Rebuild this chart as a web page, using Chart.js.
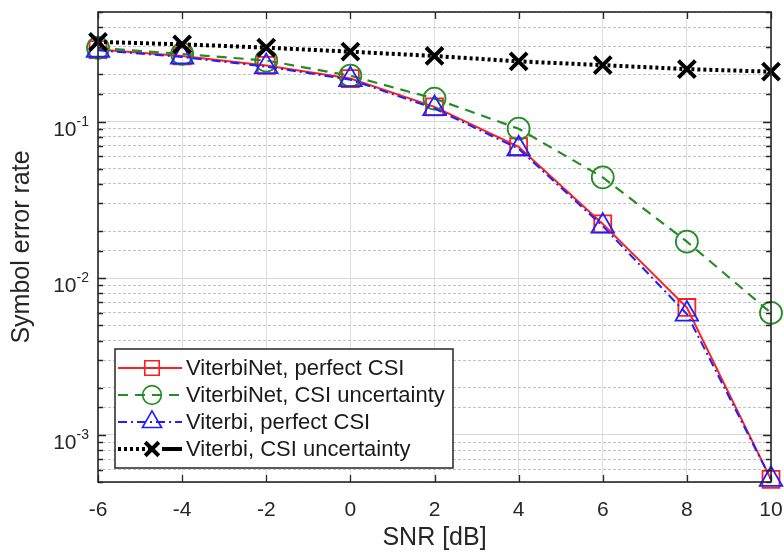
<!DOCTYPE html>
<html>
<head>
<meta charset="utf-8">
<script src="https://cdn.jsdelivr.net/npm/chart.js@4/dist/chart.umd.min.js"></script>
<style>
  html, body { margin: 0; padding: 0; background: #fff; }
</style>
</head>
<body>
<canvas id="serChart" width="784" height="553"></canvas>
<script>
// SNR points (dB) and the decades that get a label on the y axis
const snrDb = [-6, -4, -2, 0, 2, 4, 6, 8, 10];
const yDecades = [1e-3, 1e-2, 1e-1];
const yDecadeExp = ['-3', '-2', '-1'];

// symbol error rate per curve
const viterbiNetPerfect = [0.288, 0.262, 0.228, 0.188, 0.124, 0.069, 0.0222, 0.0065, 0.00052];
const viterbiNetUncertain = [0.295, 0.27, 0.245, 0.196, 0.140, 0.090, 0.044, 0.0171, 0.0060];
const viterbiPerfect = [0.285, 0.258, 0.224, 0.185, 0.121, 0.067, 0.0215, 0.0059, 0.00052];
const viterbiUncertain = [0.322, 0.311, 0.296, 0.279, 0.262, 0.242, 0.229, 0.216, 0.208];

const seriesNames = [
  'ViterbiNet, perfect CSI',
  'ViterbiNet, CSI uncertainty',
  'Viterbi, perfect CSI',
  'Viterbi, CSI uncertainty'
];

const FONT = '"Liberation Sans", Arial, Helvetica, sans-serif';
const TXT = '#262626';
const RED = '#ff1f1f', GREEN = '#238c23', BLUE = '#1f1fff', BLACK = '#000000';

const toPoints = (vals) => snrDb.map((x, i) => ({ x, y: vals[i] }));
const isDecade = (v) => Math.abs(Math.log10(v) - Math.round(Math.log10(v))) < 1e-6;

const styles = [
  { color: RED, width: 2, dash: [], marker: 'rect', r: 12 },
  { color: GREEN, width: 2.2, dash: [10, 7], marker: 'circle', r: 11 },
  { color: BLUE, width: 2, dash: [9, 4, 2, 4], marker: 'triangle', r: 13 },
  { color: BLACK, width: 4, dash: [3, 3], marker: 'crossRot', r: 12 }
];

// small marker painter for the legend, same shapes as the chart points
const drawMarker = (ctx, kind, x, y, r, color, lw) => {
  ctx.save();
  ctx.setLineDash([]);
  ctx.strokeStyle = color;
  ctx.lineWidth = lw;
  ctx.beginPath();
  if (kind === 'rect') {
    const s = r * Math.SQRT1_2;
    ctx.rect(x - s, y - s, 2 * s, 2 * s);
  } else if (kind === 'circle') {
    ctx.arc(x, y, r, 0, Math.PI * 2);
  } else if (kind === 'triangle') {
    ctx.moveTo(x, y - r);
    ctx.lineTo(x + r * 0.866, y + r * 0.5);
    ctx.lineTo(x - r * 0.866, y + r * 0.5);
    ctx.closePath();
  } else {
    const d = r * Math.SQRT1_2;
    ctx.moveTo(x - d, y - d); ctx.lineTo(x + d, y + d);
    ctx.moveTo(x + d, y - d); ctx.lineTo(x - d, y + d);
  }
  ctx.stroke();
  ctx.restore();
};

const matlabFrame = {
  id: 'matlabFrame',
  afterDraw(chart) {
    const { ctx, chartArea: ca, scales } = chart;
    const xs = scales.x, ys = scales.y;
    ctx.save();

    // inward tick marks on all four sides
    ctx.strokeStyle = TXT;
    ctx.lineWidth = 1.3;
    ctx.beginPath();
    xs.ticks.forEach((t) => {
      const px = Math.round(xs.getPixelForValue(t.value)) + 0.5;
      ctx.moveTo(px, ca.bottom); ctx.lineTo(px, ca.bottom - 7);
      ctx.moveTo(px, ca.top); ctx.lineTo(px, ca.top + 7);
    });
    ys.ticks.forEach((t) => {
      const py = Math.round(ys.getPixelForValue(t.value)) + 0.5;
      const len = isDecade(t.value) ? 8 : 5;
      ctx.moveTo(ca.left, py); ctx.lineTo(ca.left + len, py);
      ctx.moveTo(ca.right, py); ctx.lineTo(ca.right - len, py);
    });
    ctx.stroke();

    // box
    ctx.lineWidth = 1.6;
    ctx.strokeRect(ca.left, ca.top, ca.right - ca.left, ca.bottom - ca.top);

    // y labels as 10 with a raised exponent
    ctx.fillStyle = TXT;
    ctx.textBaseline = 'alphabetic';
    ctx.textAlign = 'left';
    yDecades.forEach((d, i) => {
      const py = ys.getPixelForValue(d);
      ctx.font = `21px ${FONT}`;
      const wBase = ctx.measureText('10').width;
      ctx.font = `14px ${FONT}`;
      const wExp = ctx.measureText(yDecadeExp[i]).width;
      const x0 = ca.left - 9 - wBase - wExp;
      ctx.font = `21px ${FONT}`;
      ctx.fillText('10', x0, py + 14);
      ctx.font = `14px ${FONT}`;
      ctx.fillText(yDecadeExp[i], x0 + wBase, py + 4);
    });

    // legend box, lower left of the axes
    const bx = ca.left + 17, by = ca.bottom - 133, bw = 338, bh = 119;
    ctx.fillStyle = '#ffffff';
    ctx.fillRect(bx, by, bw, bh);
    ctx.strokeStyle = TXT;
    ctx.lineWidth = 1.5;
    ctx.strokeRect(bx, by, bw, bh);
    ctx.font = `22px ${FONT}`;
    ctx.textBaseline = 'middle';
    seriesNames.forEach((name, i) => {
      const st = styles[i];
      const ry = by + 19 + i * 27;
      ctx.strokeStyle = st.color;
      ctx.lineWidth = st.width;
      ctx.setLineDash(st.dash);
      ctx.beginPath();
      if (i === 3) {
        ctx.moveTo(bx + 3, ry); ctx.lineTo(bx + 37, ry);
        ctx.stroke();
        ctx.setLineDash([]);
        ctx.beginPath();
        ctx.moveTo(bx + 47, ry); ctx.lineTo(bx + 67, ry);
      } else {
        ctx.moveTo(bx + 3, ry); ctx.lineTo(bx + 67, ry);
      }
      ctx.stroke();
      ctx.setLineDash([]);
      drawMarker(ctx, st.marker, bx + 37, ry, st.r * (i === 3 ? 0.8 : 0.85), st.color, i === 3 ? 4 : 1.6);
      ctx.fillStyle = '#1a1a1a';
      ctx.fillText(name, bx + 71, ry + 1);
    });

    ctx.restore();
  }
};

const allSeries = [viterbiNetPerfect, viterbiNetUncertain, viterbiPerfect, viterbiUncertain];

const datasets = allSeries.map((vals, i) => {
  const st = styles[i];
  return {
    label: seriesNames[i],
    data: toPoints(vals),
    borderColor: st.color,
    borderWidth: st.width,
    borderDash: st.dash,
    pointStyle: st.marker,
    pointRadius: st.r,
    pointBorderColor: st.color,
    pointBackgroundColor: 'rgba(0,0,0,0)',
    pointBorderWidth: i === 3 ? 4 : 1.8,
    tension: 0,
    fill: false,
    clip: false,
    order: 4 - i
  };
});

new Chart(document.getElementById('serChart'), {
  type: 'line',
  data: { datasets },
  options: {
    responsive: false,
    animation: false,
    events: [],
    layout: { autoPadding: false, padding: { top: 12, right: 13, left: 0, bottom: 0 } },
    plugins: { legend: { display: false }, tooltip: { enabled: false } },
    scales: {
      x: {
        type: 'linear',
        min: -6,
        max: 10,
        afterFit: (s) => { s.height = 71; s.paddingLeft = 0; s.paddingRight = 0; },
        ticks: { stepSize: 2, color: TXT, padding: 16, font: { family: FONT, size: 21 } },
        grid: { color: '#dedede', lineWidth: 1, drawTicks: false },
        border: { display: false },
        title: { display: true, text: 'SNR [dB]', color: TXT, padding: 0, font: { family: FONT, size: 25 } }
      },
      y: {
        type: 'logarithmic',
        min: 5e-4,
        max: 0.5,
        afterFit: (s) => { s.width = 98; s.paddingTop = 0; s.paddingBottom = 0; },
        ticks: { display: false, autoSkip: false },
        grid: {
          drawTicks: false,
          lineWidth: 1,
          color: (c) => (c.tick && isDecade(c.tick.value) ? '#d8d8d8' : '#c2c2c2')
        },
        border: {
          display: false,
          dash: (c) => (c.tick && !isDecade(c.tick.value) ? [3, 2] : [])
        },
        title: { display: true, text: 'Symbol error rate', color: TXT, padding: { top: 7, bottom: 0 }, font: { family: FONT, size: 25 } }
      }
    }
  },
  plugins: [matlabFrame]
});
</script>
</body>
</html>
